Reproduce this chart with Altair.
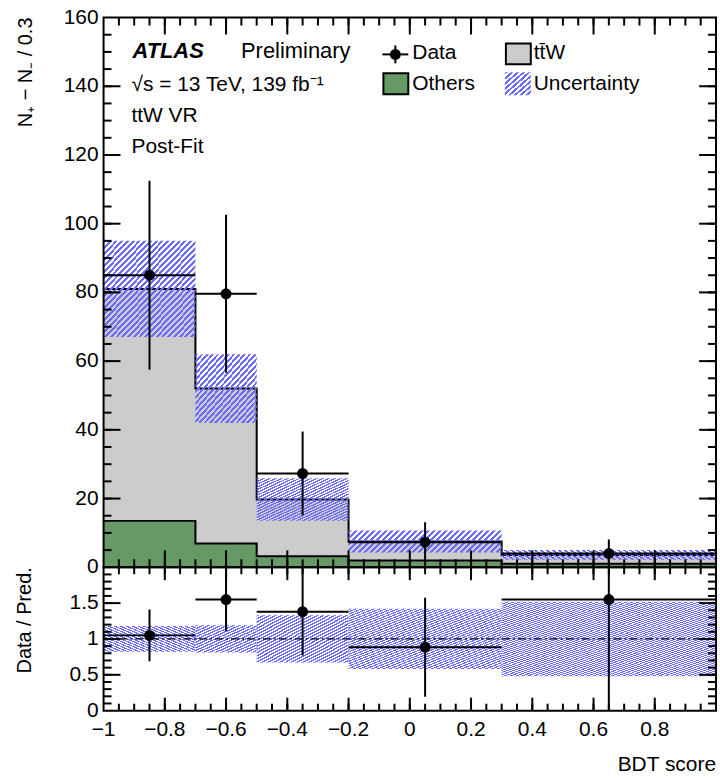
import altair as alt
import numpy as np
import pandas as pd

# ---------------------------------------------------------------
# BDT score binning and post-fit yields (events normalised to 0.3)
# ---------------------------------------------------------------
edges = [-1.0, -0.7, -0.5, -0.2, 0.3, 1.0]

others = [13.5, 6.9, 3.2, 2.0, 1.0]
ttw = [67.5, 45.1, 16.5, 5.5, 2.6]
pred_unc = [14.0, 10.0, 6.2, 3.2, 1.4]

data_val = [85.0, 79.6, 27.3, 7.3, 4.0]
data_err = [27.5, 23.0, 12.2, 5.8, 4.1]

# ratio panel
ratio_val = [1.05, 1.55, 1.38, 0.885, 1.55]
ratio_err = [0.36, 0.44, 0.61, 0.69, 1.6]
ratio_unc = [0.18, 0.19, 0.33, 0.42, 0.52]

# axis tick positions and labels
x_major = [-0.8, -0.6, -0.4, -0.2, 0.0, 0.2, 0.4, 0.6, 0.8]
x_label_vals = [-1.0, -0.8, -0.6, -0.4, -0.2, 0.0, 0.2, 0.4, 0.6, 0.8]
x_minor = [float(round(v, 2)) for v in np.arange(-0.95, 0.96, 0.05)]
y_up_major = [0, 20, 40, 60, 80, 100, 120, 140, 160]
y_up_minor = list(range(5, 160, 5))
y_lo_major = [0.5, 1.0, 1.5]
y_lo_labels = [0.0, 0.5, 1.0, 1.5]
y_lo_minor = [float(round(v, 2)) for v in np.arange(0.1, 1.95, 0.1)]

FONT = "Liberation Sans"
FS = 21
W, H_UP, H_LO = 615, 552, 144
GREEN = "#669966"
GREY = "#cccccc"
HATCH = "#6b6bff"

lo = edges[:-1]
hi = edges[1:]
total = [o + t for o, t in zip(others, ttw)]
bins = pd.DataFrame({
    "lo": lo, "hi": hi,
    "mid": [(a + b) / 2 for a, b in zip(lo, hi)],
    "total": total,
    "band_lo": [t - u for t, u in zip(total, pred_unc)],
    "band_hi": [t + u for t, u in zip(total, pred_unc)],
    "data": data_val,
    "data_lo": [d - e for d, e in zip(data_val, data_err)],
    "data_hi": [d + e for d, e in zip(data_val, data_err)],
    "r": ratio_val,
    "r_lo": [r - e for r, e in zip(ratio_val, ratio_err)],
    "r_hi": [r + e for r, e in zip(ratio_val, ratio_err)],
    "rb_lo": [1 - u for u in ratio_unc],
    "rb_hi": [1 + u for u in ratio_unc],
})
steps = pd.DataFrame({
    "x": edges,
    "others": others + [others[-1]],
    "total": total + [total[-1]],
})

xs = alt.Scale(domain=[-1, 1], nice=False, zero=False)
ys_up = alt.Scale(domain=[0, 160], nice=False, zero=False)
ys_lo = alt.Scale(domain=[0, 2], nice=False, zero=False)


def num_label(v):
    """ROOT-like tick label: shortest form, typographic minus."""
    return f"{v:g}".replace("-", "\u2212")


def one_row():
    return pd.DataFrame({"k": [0]})


def hatch_fill(w_px, h_px, period=6.0):
    """Diagonal '////' stripes as a striped linear gradient."""
    s = max(w_px, h_px)
    n = max(1, int(round(2 * s / period)))
    stops = []
    for k in range(n):
        a, b, c = k / n, (k + 0.5) / n, (k + 1) / n
        stops += [
            {"offset": a, "color": HATCH},
            {"offset": b, "color": HATCH},
            {"offset": b, "color": "rgba(255,255,255,0)"},
            {"offset": c, "color": "rgba(255,255,255,0)"},
        ]
    return {"gradient": "linear", "x1": 0, "y1": 0, "x2": 1, "y2": 1, "stops": stops}


def panel_ticks(x_sets, y_sets, ymax, h):
    """Inward ROOT-style ticks, one small rule per tick, on all four frame sides."""
    out = []
    for vals, L in x_sets:
        for v in vals:
            px = (v + 1.0) / 2.0 * W
            out.append(alt.Chart(one_row()).mark_rule(color="black", strokeWidth=2).encode(
                x=alt.value(px), y=alt.value(h), y2=alt.value(h - L)))
            out.append(alt.Chart(one_row()).mark_rule(color="black", strokeWidth=2).encode(
                x=alt.value(px), y=alt.value(0), y2=alt.value(L)))
    for vals, L in y_sets:
        for v in vals:
            py = h - v / ymax * h
            out.append(alt.Chart(one_row()).mark_rule(color="black", strokeWidth=2).encode(
                y=alt.value(py), x=alt.value(0), x2=alt.value(L)))
            out.append(alt.Chart(one_row()).mark_rule(color="black", strokeWidth=2).encode(
                y=alt.value(py), x=alt.value(W), x2=alt.value(W - L)))
    return out


def y_labels(values, ys):
    df = pd.DataFrame({"v": values, "lab": [num_label(v) for v in values]})
    return alt.Chart(df).mark_text(
        align="right", baseline="middle", font=FONT, fontSize=FS, color="black"
    ).encode(y=alt.Y("v:Q", scale=ys, axis=None), x=alt.value(-5), text="lab:N")


def x_labels(values, h):
    df = pd.DataFrame({"v": values, "lab": [num_label(v) for v in values]})
    return alt.Chart(df).mark_text(
        align="center", baseline="top", font=FONT, fontSize=FS, color="black"
    ).encode(x=alt.X("v:Q", scale=xs, axis=None), y=alt.value(h + 8), text="lab:N")


def v_title(label, x):
    return alt.Chart(pd.DataFrame({"t": [label]})).mark_text(
        align="right", baseline="middle", angle=270, font=FONT, fontSize=20, color="black"
    ).encode(x=alt.value(x), y=alt.value(0), text="t:N")


def frame(h):
    return alt.Chart(pd.DataFrame({"f": [0]})).mark_rect(
        fillOpacity=0, stroke="black", strokeWidth=2
    ).encode(x=alt.value(0), x2=alt.value(W), y=alt.value(0), y2=alt.value(h))


def text(label, x, y, size=FS, weight="normal", style="normal", align="left"):
    return alt.Chart(pd.DataFrame({"t": [label]})).mark_text(
        align=align, baseline="alphabetic", font=FONT, fontSize=size,
        fontWeight=weight, fontStyle=style, color="black"
    ).encode(x=alt.value(x), y=alt.value(y), text="t:N")


# ---------------- upper panel ----------------
NX = dict(scale=xs, axis=None)
NY = dict(scale=ys_up, axis=None)

grey_area = alt.Chart(steps).mark_area(interpolate="step-after", color=GREY).encode(
    x=alt.X("x:Q", **NX), y=alt.Y("total:Q", **NY)
)
total_line = alt.Chart(steps).mark_line(interpolate="step-after", color="black", strokeWidth=2).encode(
    x=alt.X("x:Q", **NX), y=alt.Y("total:Q", **NY)
)
green_area = alt.Chart(steps).mark_area(interpolate="step-after", color=GREEN).encode(
    x=alt.X("x:Q", **NX), y=alt.Y("others:Q", **NY)
)
others_line = alt.Chart(steps).mark_line(interpolate="step-after", color="black", strokeWidth=2).encode(
    x=alt.X("x:Q", **NX), y=alt.Y("others:Q", **NY)
)

up_hatch = []
for i in range(len(lo)):
    w_px = (hi[i] - lo[i]) / 2 * W
    h_px = 2 * pred_unc[i] / 160 * H_UP
    up_hatch.append(
        alt.Chart(bins.iloc[[i]]).mark_rect(fill=hatch_fill(w_px, h_px), strokeWidth=0).encode(
            x=alt.X("lo:Q", **NX), x2="hi:Q",
            y=alt.Y("band_lo:Q", **NY), y2="band_hi:Q",
        )
    )

data_v = alt.Chart(bins).mark_rule(color="black", strokeWidth=2).encode(
    x=alt.X("mid:Q", **NX), y=alt.Y("data_lo:Q", **NY), y2="data_hi:Q"
)
data_h = alt.Chart(bins).mark_rule(color="black", strokeWidth=2).encode(
    x=alt.X("lo:Q", **NX), x2="hi:Q", y=alt.Y("data:Q", **NY)
)
data_pt = alt.Chart(bins).mark_point(filled=True, shape="circle", size=120, color="black", opacity=1).encode(
    x=alt.X("mid:Q", **NX), y=alt.Y("data:Q", **NY)
)

legend_layers = [
    text("ATLAS", 29, 41, size=22, weight="bold", style="italic"),
    text("Preliminary", 138, 41, size=22),
    text("√s = 13 TeV, 139 fb⁻¹", 28, 74),
    text("ttW VR", 28, 105),
    text("Post-Fit", 28, 136),
    # Data entry
    alt.Chart(one_row()).mark_rule(color="black", strokeWidth=2).encode(
        x=alt.value(280), x2=alt.value(306), y=alt.value(37)),
    alt.Chart(one_row()).mark_rule(color="black", strokeWidth=2).encode(
        x=alt.value(293), y=alt.value(28), y2=alt.value(46)),
    alt.Chart(one_row()).mark_point(filled=True, shape="circle", size=120, color="black", opacity=1).encode(
        x=alt.value(293), y=alt.value(37)),
    text("Data", 310, 42),
    # ttW entry
    alt.Chart(one_row()).mark_rect(fill=GREY, stroke="black", strokeWidth=2).encode(
        x=alt.value(404), x2=alt.value(429), y=alt.value(26), y2=alt.value(47)),
    text("tt̄W", 432, 42),
    # Others entry
    alt.Chart(one_row()).mark_rect(fill=GREEN, stroke="black", strokeWidth=2).encode(
        x=alt.value(281), x2=alt.value(306), y=alt.value(56), y2=alt.value(77)),
    text("Others", 310, 73),
    # Uncertainty entry
    alt.Chart(one_row()).mark_rect(fill=hatch_fill(26, 23), strokeWidth=0).encode(
        x=alt.value(403), x2=alt.value(429), y=alt.value(55), y2=alt.value(78)),
    text("Uncertainty", 432, 73),
]

up_ticks = panel_ticks(
    [(x_minor, 8), (x_major, 17)],
    [(y_up_minor, 8), ([v for v in y_up_major if 0 < v < 160], 17)],
    160.0, H_UP,
)

upper = alt.layer(
    grey_area, total_line, green_area, others_line, *up_hatch,
    data_v, data_h, data_pt, *legend_layers, frame(H_UP), *up_ticks,
    y_labels(y_up_major, ys_up), v_title("N₊ − N₋ / 0.3", -78),
).properties(width=W, height=H_UP)

# ---------------- ratio panel ----------------
NXL = dict(scale=xs, axis=None)
NYL = dict(scale=ys_lo, axis=None)

lo_hatch = []
for i in range(len(lo)):
    w_px = (hi[i] - lo[i]) / 2 * W
    h_px = 2 * ratio_unc[i] / 2 * H_LO
    lo_hatch.append(
        alt.Chart(bins.iloc[[i]]).mark_rect(fill=hatch_fill(w_px, h_px), strokeWidth=0).encode(
            x=alt.X("lo:Q", **NXL), x2="hi:Q",
            y=alt.Y("rb_lo:Q", **NYL), y2="rb_hi:Q",
        )
    )

unity = alt.Chart(pd.DataFrame({"one": [1.0], "xl": [-1.0], "xr": [1.0]})).mark_rule(
    color="black", strokeWidth=1.3, strokeDash=[8, 3, 2, 3]
).encode(
    x=alt.X("xl:Q", **NXL), x2="xr:Q",
    y=alt.Y("one:Q", **NYL),
)

r_v = alt.Chart(bins).mark_rule(color="black", strokeWidth=2, clip=True).encode(
    x=alt.X("mid:Q", **NXL), y=alt.Y("r_lo:Q", **NYL), y2="r_hi:Q"
)
r_h = alt.Chart(bins).mark_rule(color="black", strokeWidth=2, clip=True).encode(
    x=alt.X("lo:Q", **NXL), x2="hi:Q", y=alt.Y("r:Q", **NYL)
)
r_pt = alt.Chart(bins).mark_point(filled=True, shape="circle", size=120, color="black", opacity=1).encode(
    x=alt.X("mid:Q", **NXL), y=alt.Y("r:Q", **NYL)
)

lo_ticks = panel_ticks(
    [(x_minor, 7), (x_major, 13)],
    [(y_lo_minor, 8), (y_lo_major, 17)],
    2.0, H_LO,
)

lower = alt.layer(
    *lo_hatch, unity, r_v, r_h, r_pt, frame(H_LO), *lo_ticks,
    y_labels(y_lo_labels, ys_lo), x_labels(x_label_vals, H_LO),
    v_title("Data / Pred.", -79),
    text("BDT score", W, H_LO + 61, align="right"),
).properties(width=W, height=H_LO)

chart = alt.vconcat(upper, lower, spacing=0, bounds="flush").configure_view(stroke=None).properties(
    padding={"left": 15, "top": 5, "right": 0, "bottom": 0}
)

chart.save("out.html", embed_options={"renderer": "svg", "actions": False})
